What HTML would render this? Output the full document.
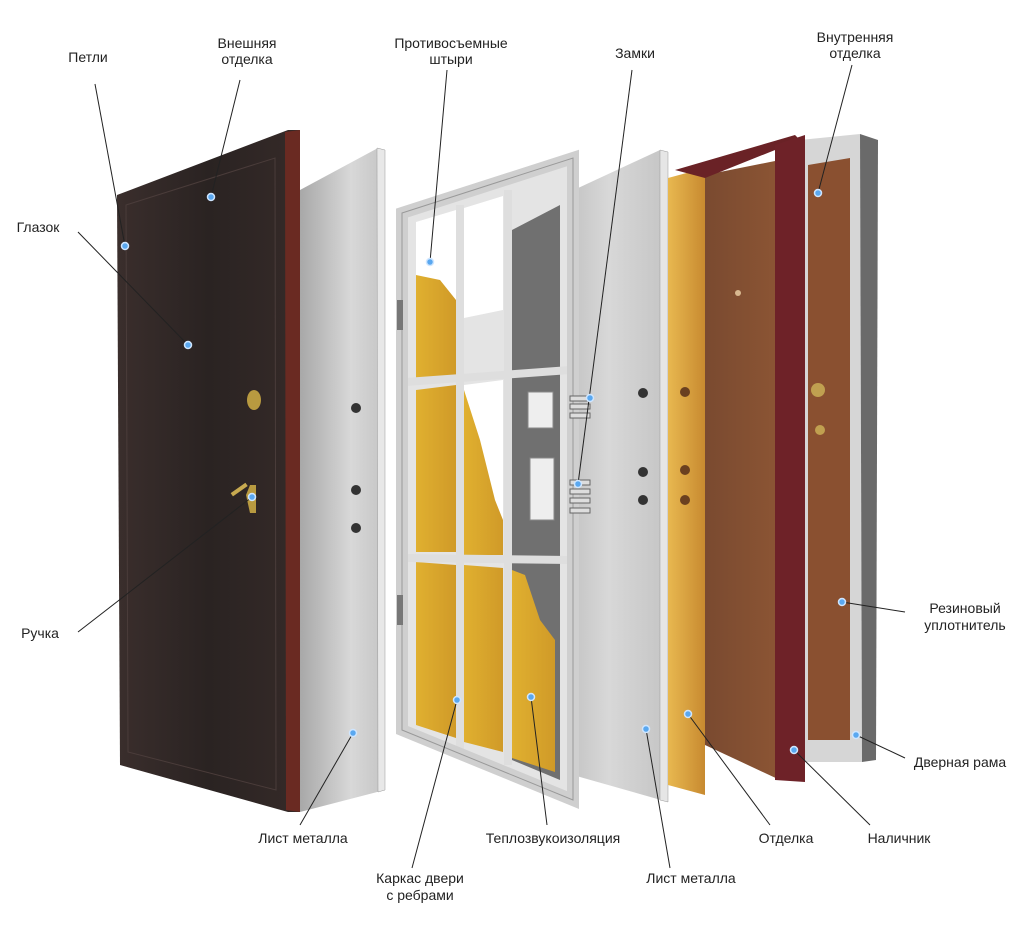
<!DOCTYPE html>
<html><head><meta charset="utf-8"><style>
html,body{margin:0;padding:0;background:#fff;}
svg{display:block;}
text{font-family:"Liberation Sans",sans-serif;font-size:14px;fill:#222;}
</style></head><body>
<svg width="1024" height="925" viewBox="0 0 1024 925" xmlns="http://www.w3.org/2000/svg">
<defs>
<linearGradient id="dk" x1="0" x2="1"><stop offset="0" stop-color="#3a2e2c"/><stop offset="0.5" stop-color="#2a2322"/><stop offset="1" stop-color="#352a28"/></linearGradient>
<linearGradient id="gr" x1="0" x2="1"><stop offset="0" stop-color="#a8a8a8"/><stop offset="0.6" stop-color="#d8d8d8"/><stop offset="1" stop-color="#c4c4c4"/></linearGradient>
<linearGradient id="gold" x1="0" x2="1"><stop offset="0" stop-color="#e8b850"/><stop offset="1" stop-color="#c88a30"/></linearGradient>
<linearGradient id="wood" x1="0" x2="1"><stop offset="0" stop-color="#7a4a30"/><stop offset="1" stop-color="#8c5534"/></linearGradient>
<linearGradient id="yel" x1="0" x2="1"><stop offset="0" stop-color="#e0b030"/><stop offset="1" stop-color="#d09a28"/></linearGradient>
</defs>

<!-- dark outer door -->
<polygon points="117,195 288,130 300,130 300,812 288,812 120,765" fill="url(#dk)"/>
<polygon points="285,132 300,130 300,812 286,810" fill="#6a2a22"/>
<polygon points="126,205 275,158 276,790 128,752" fill="none" stroke="#4a3c3a" stroke-width="1"/>
<ellipse cx="254" cy="400" rx="7" ry="10" fill="#b89a40"/>
<path d="M246,495 l4,-10 l6,0 l0,28 l-6,0 z" fill="#b89a40"/>
<rect x="230" y="487" width="18" height="4" fill="#c8aa50" transform="rotate(-35 240 489)"/>

<!-- metal sheet 1 -->
<polygon points="300,190 378,148 385,150 385,790 300,812" fill="url(#gr)"/>
<polygon points="377,148 385,150 385,790 378,792" fill="#e8e8e8" stroke="#999" stroke-width="0.5"/>
<circle cx="356" cy="408" r="5" fill="#333"/><circle cx="356" cy="490" r="5" fill="#333"/><circle cx="356" cy="528" r="5" fill="#333"/>

<!-- metal sheet 2 (behind cage) -->
<polygon points="520,215 660,150 668,152 668,802 520,760" fill="url(#gr)"/>
<polygon points="660,150 668,152 668,802 660,800" fill="#e6e6e6" stroke="#999" stroke-width="0.5"/>
<circle cx="643" cy="393" r="5" fill="#333"/><circle cx="643" cy="472" r="5" fill="#333"/><circle cx="643" cy="500" r="5" fill="#333"/>

<!-- cage -->
<polygon points="402,213 573,158 573,800 402,730" fill="#e4e4e4"/>
<!-- gray behind right column -->
<polygon points="512,230 560,205 560,780 512,760" fill="#707070"/>
<!-- cells -->
<g>
<polygon points="416,222 456,210 456,320 416,330" fill="#fff"/>
<polygon points="464,208 503,196 503,310 464,318" fill="#fff"/>
<polygon points="416,275 440,280 456,300 456,380 416,385" fill="url(#yel)"/>
<polygon points="416,390 456,385 456,552 416,552" fill="url(#yel)"/>
<polygon points="464,385 503,380 503,548 464,552" fill="#fff"/>
<polygon points="464,390 480,440 495,500 503,520 503,555 464,555" fill="url(#yel)"/>
<polygon points="416,562 456,565 456,738 416,725" fill="url(#yel)"/>
<polygon points="464,565 503,568 503,752 464,742" fill="url(#yel)"/>
<polygon points="512,570 525,575 540,620 555,640 555,772 512,758" fill="url(#yel)"/>
</g>
<!-- bars -->
<g fill="none" stroke="#dedede" stroke-width="8">
<line x1="460" y1="205" x2="460" y2="750"/>
<line x1="508" y1="190" x2="508" y2="765"/>
<line x1="406" y1="382" x2="570" y2="370"/>
<line x1="406" y1="558" x2="570" y2="560"/>
</g>
<polygon points="402,213 573,158 573,800 402,730" fill="none" stroke="#cfcfcf" stroke-width="12"/>
<polygon points="402,213 573,158 573,800 402,730" fill="none" stroke="#999" stroke-width="1"/>
<rect x="528" y="392" width="25" height="36" fill="#eee" stroke="#888"/>
<rect x="530" y="458" width="24" height="62" fill="#eee" stroke="#888"/>
<g fill="#ddd" stroke="#666" stroke-width="1">
<rect x="570" y="396" width="20" height="5"/><rect x="570" y="404" width="20" height="5"/><rect x="570" y="413" width="20" height="5"/>
<rect x="570" y="480" width="20" height="5"/><rect x="570" y="489" width="20" height="5"/><rect x="570" y="498" width="20" height="5"/><rect x="570" y="508" width="20" height="5"/>
</g>
<rect x="397" y="300" width="6" height="30" fill="#777"/><rect x="397" y="595" width="6" height="30" fill="#777"/>

<!-- gold panel -->
<polygon points="668,178 705,168 705,795 668,785" fill="url(#gold)"/>
<circle cx="685" cy="392" r="5" fill="#6a4020"/><circle cx="685" cy="470" r="5" fill="#6a4020"/><circle cx="685" cy="500" r="5" fill="#6a4020"/>
<!-- wood door -->
<polygon points="705,175 780,160 780,780 705,745" fill="url(#wood)"/>
<polygon points="675,170 795,135 800,140 705,178" fill="#6a2226"/>
<circle cx="738" cy="293" r="3" fill="#d8b890"/>
<!-- frame -->
<polygon points="800,140 860,134 862,762 800,762" fill="#d6d6d6"/>
<polygon points="860,134 878,140 876,760 862,762" fill="#6a6a6a"/>
<polygon points="808,165 850,158 850,740 808,740" fill="#8a5030"/>
<circle cx="818" cy="390" r="7" fill="#c0a050"/><circle cx="820" cy="430" r="5" fill="#c0a050"/>
<!-- nalichnik -->
<polygon points="775,145 805,135 805,782 775,780" fill="#6e2228"/>

<!-- leader lines -->
<g stroke="#222" stroke-width="1" fill="none">
<line x1="95" y1="84" x2="125" y2="246"/>
<line x1="240" y1="80" x2="211" y2="197"/>
<line x1="78" y1="232" x2="188" y2="345"/>
<line x1="78" y1="632" x2="252" y2="497"/>
<line x1="300" y1="825" x2="353" y2="733"/>
<line x1="447" y1="70" x2="430" y2="262"/>
<line x1="632" y1="70" x2="578" y2="484"/>
<line x1="852" y1="65" x2="818" y2="193"/>
<line x1="412" y1="868" x2="457" y2="700"/>
<line x1="547" y1="825" x2="531" y2="697"/>
<line x1="670" y1="868" x2="646" y2="729"/>
<line x1="770" y1="825" x2="688" y2="714"/>
<line x1="870" y1="825" x2="794" y2="750"/>
<line x1="905" y1="612" x2="842" y2="602"/>
<line x1="905" y1="758" x2="856" y2="735"/>
</g>
<g fill="#5aa8f0" stroke="#cfe6ff" stroke-width="1.5">
<circle cx="125" cy="246" r="3.5"/><circle cx="211" cy="197" r="3.5"/><circle cx="188" cy="345" r="3.5"/>
<circle cx="252" cy="497" r="3.5"/><circle cx="353" cy="733" r="3.5"/><circle cx="430" cy="262" r="3.5"/>
<circle cx="590" cy="398" r="3.5"/><circle cx="578" cy="484" r="3.5"/><circle cx="818" cy="193" r="3.5"/>
<circle cx="457" cy="700" r="3.5"/><circle cx="531" cy="697" r="3.5"/><circle cx="646" cy="729" r="3.5"/>
<circle cx="688" cy="714" r="3.5"/><circle cx="794" cy="750" r="3.5"/><circle cx="842" cy="602" r="3.5"/>
<circle cx="856" cy="735" r="3.5"/>
</g>

<!-- labels -->
<text x="88" y="62" text-anchor="middle">Петли</text>
<text x="247" y="48" text-anchor="middle">Внешняя</text>
<text x="247" y="64" text-anchor="middle">отделка</text>
<text x="38" y="232" text-anchor="middle">Глазок</text>
<text x="40" y="638" text-anchor="middle">Ручка</text>
<text x="303" y="843" text-anchor="middle">Лист металла</text>
<text x="451" y="48" text-anchor="middle">Противосъемные</text>
<text x="451" y="64" text-anchor="middle">штыри</text>
<text x="635" y="58" text-anchor="middle">Замки</text>
<text x="855" y="42" text-anchor="middle">Внутренняя</text>
<text x="855" y="58" text-anchor="middle">отделка</text>
<text x="965" y="613" text-anchor="middle">Резиновый</text>
<text x="965" y="630" text-anchor="middle">уплотнитель</text>
<text x="960" y="767" text-anchor="middle">Дверная рама</text>
<text x="553" y="843" text-anchor="middle">Теплозвукоизоляция</text>
<text x="786" y="843" text-anchor="middle">Отделка</text>
<text x="899" y="843" text-anchor="middle">Наличник</text>
<text x="420" y="883" text-anchor="middle">Каркас двери</text>
<text x="420" y="900" text-anchor="middle">с ребрами</text>
<text x="691" y="883" text-anchor="middle">Лист металла</text>
</svg>
</body></html>
